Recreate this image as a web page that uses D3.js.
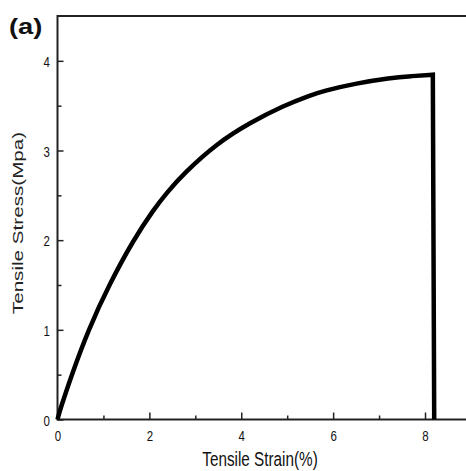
<!DOCTYPE html>
<html><head><meta charset="utf-8">
<script src="https://cdn.jsdelivr.net/npm/d3@7"></script>
<style>html,body{margin:0;padding:0;background:#fff;}svg{display:block;}</style>
</head><body>
<svg id="c" width="466" height="471"></svg>
<script>
const strain = [0, 0.05, 0.31, 0.67, 1.14, 1.65, 2.09, 2.38, 2.74, 3.47, 4.19, 4.92, 5.5, 5.79, 6.51, 7.24, 7.7, 8.17];
const stress = [0, 0.1, 0.5, 1.0, 1.52, 2.0, 2.34, 2.53, 2.74, 3.08, 3.31, 3.5, 3.615, 3.665, 3.75, 3.81, 3.83, 3.845];
const breakStrain = 8.2, breakStress = 0;
const xMajor = [0, 2, 4, 6, 8];
const xMinor = [1, 3, 5, 7];
const yMajor = [0, 1, 2, 3, 4];
const yMinor = [0.5, 1.5, 2.5, 3.5];

const svg = d3.select("#c");
const x = d3.scaleLinear().domain([0, 9]).range([57.5, 57.5 + 9 * 45.94]);
const y = d3.scaleLinear().domain([0, 4.5]).range([419.5, 16]);
const font = "'Liberation Sans', Arial, sans-serif";
const SY = 1.35;

// frame
svg.append("line").attr("x1", x(0)).attr("x2", 470).attr("y1", y(4.5)).attr("y2", y(4.5)).attr("stroke", "#222").attr("stroke-width", 2);
svg.append("line").attr("x1", x(0)).attr("x2", 470).attr("y1", y(0)).attr("y2", y(0)).attr("stroke", "#222").attr("stroke-width", 2);
svg.append("line").attr("x1", x(0)).attr("x2", x(0)).attr("y1", y(4.5) - 1).attr("y2", y(0) + 1).attr("stroke", "#222").attr("stroke-width", 2);

// x ticks
const xa = svg.append("g").attr("transform", `translate(0,${y(0)})`)
  .call(d3.axisBottom(x).tickValues(xMajor).tickSize(-7).tickFormat(d3.format("d")));
xa.select(".domain").remove();
xa.selectAll(".tick line").attr("stroke", "#222").attr("stroke-width", 1.5);
xa.selectAll(".tick text").attr("font-family", font).attr("font-size", 11.5).attr("fill", "#111")
  .attr("y", 0).attr("dy", 0).attr("transform", `translate(0,21.5) scale(1,${SY})`);
const xm = svg.append("g").attr("transform", `translate(0,${y(0)})`)
  .call(d3.axisBottom(x).tickValues(xMinor).tickSize(-4).tickFormat(""));
xm.select(".domain").remove();
xm.selectAll(".tick line").attr("stroke", "#222").attr("stroke-width", 1.5);

// y ticks
const ya = svg.append("g").attr("transform", `translate(${x(0)},0)`)
  .call(d3.axisLeft(y).tickValues(yMajor).tickSize(-6).tickFormat(d3.format("d")));
ya.select(".domain").remove();
ya.selectAll(".tick line").attr("stroke", "#222").attr("stroke-width", 1.5);
ya.selectAll(".tick text").attr("font-family", font).attr("font-size", 11.5).attr("fill", "#111")
  .attr("x", 0).attr("dy", 0).attr("text-anchor", "end").attr("transform", `translate(-7.5,5.5) scale(1,${SY})`);
const ym = svg.append("g").attr("transform", `translate(${x(0)},0)`)
  .call(d3.axisLeft(y).tickValues(yMinor).tickSize(-4).tickFormat(""));
ym.select(".domain").remove();
ym.selectAll(".tick line").attr("stroke", "#222").attr("stroke-width", 1.5);

// curve
const pts = strain.map((s, i) => [s, stress[i]]);
const lineGen = d3.line().x(d => x(d[0])).y(d => y(d[1])).curve(d3.curveBasis);
const path = lineGen(pts) + `L${x(breakStrain)},${y(breakStress)}`;
svg.append("path").attr("d", path).attr("fill", "none").attr("stroke", "#000")
  .attr("stroke-width", 4.5).attr("stroke-linejoin", "miter");

// titles
svg.append("text").attr("font-family", font).attr("font-size", 15.3).attr("fill", "#111")
  .attr("text-anchor", "middle").attr("transform", `translate(260,466) scale(1,${SY})`)
  .text("Tensile Strain(%)");
svg.append("text").attr("font-family", font).attr("font-size", 15.3).attr("fill", "#222")
  .attr("text-anchor", "middle").attr("transform", `translate(22.5,223) scale(1,${SY}) rotate(-90)`)
  .text("Tensile Stress(Mpa)");
svg.append("text").attr("font-family", font).attr("font-size", 26).attr("font-weight", "bold").attr("fill", "#111")
  .attr("transform", `translate(9,34) scale(1.05,0.85)`)
  .text("(a)");
</script>
</body></html>
